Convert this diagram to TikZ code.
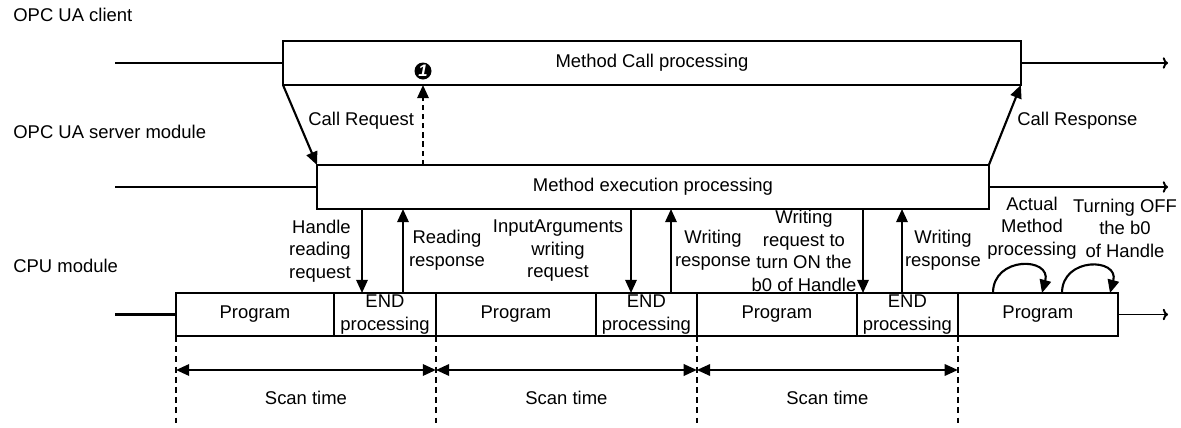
\documentclass[tikz,border=0pt]{standalone}
\usepackage{fontspec}
\setmainfont{Liberation Sans}
\usetikzlibrary{arrows.meta, positioning, calc}

\begin{document}
\begin{tikzpicture}[
    x=0.02cm, y=-0.02cm,
    font=\fontsize{10.5pt}{12.8pt}\selectfont,
    block/.style={draw, line width=1.2pt, inner sep=0pt, outer sep=0pt, align=center, anchor=north west, minimum height=0.88cm},
    cpu/.style={draw, line width=1.2pt, inner sep=0pt, outer sep=0pt, align=center, minimum height=0.86cm},
    line/.style={line width=1.2pt},
    flow/.style={line width=1.1pt, -{To[length=3pt,width=6.5pt]}},
    sig/.style={line width=1.2pt, -{Triangle[length=7.5pt,width=6.5pt]}},
    span/.style={line width=1.2pt, {Triangle[length=7.5pt,width=6.5pt]}-{Triangle[length=7.5pt,width=6.5pt]}},
    vdash/.style={line width=1pt, dash pattern=on 3.4pt off 2.4pt},
    lbl/.style={inner sep=0pt, align=center}
]
\useasboundingbox (0,0) rectangle (1181,427);

% Layer names
\node[lbl, anchor=west] (opc) at (13,15) {OPC UA client};
\node[lbl, anchor=west] (srv) at (13,132) {OPC UA server module};
\node[lbl, anchor=west] (cpum) at (13,266) {CPU module};

% line ends and arrow positions
\coordinate (lft) at (115,0);
\coordinate (rgt) at (1168,0);
\coordinate (a1) at (362,0);
\coordinate (a2) at (403,0);
\coordinate (a3) at (631,0);
\coordinate (a4) at (671,0);
\coordinate (a5) at (863,0);
\coordinate (a6) at (902,0);
\coordinate (c1) at (993,0);
\coordinate (c2) at (1042,0);
\coordinate (c3) at (1062,0);
\coordinate (c4) at (1110,0);

% OPC UA client
\node[block, minimum width=14.76cm] (client) at (283,41) {Method Call processing};
\draw[line] (client.west -| lft) -- (client.west);
\draw[flow] (client.east) -- (client.east -| rgt);

% OPC UA server module
\node[block, minimum width=13.44cm] (server) at (317,165) {Method execution processing};
\draw[line] (server.west -| lft) -- (server.west);
\draw[flow] (server.east) -- (server.east -| rgt);

\draw[sig] (client.south west) -- (server.north west);
\draw[sig] (server.north east) -- (client.south east);
\node[lbl, anchor=west] (lcq) at (308,121) {Call Request};
\node[lbl, anchor=west] (lcs) at (1017,121) {Call Response};

\node[circle, fill=black, inner sep=0pt, minimum size=0.34cm, text=white,
      font=\bfseries\itshape\fontsize{9.5pt}{9.5pt}\selectfont] (m1) at (423,71) {1};
\draw[sig, dash pattern=on 3pt off 2.2pt] (server.north -| m1) -- (client.south -| m1);

% CPU module
\node[cpu, minimum width=3.16cm, anchor=north west] (p1) at (176,293) {Program};
\node[cpu, minimum width=2.04cm, right=0pt of p1] (e1) {END\\processing};
\node[cpu, minimum width=3.2cm, right=0pt of e1] (p2) {Program};
\node[cpu, minimum width=2.02cm, right=0pt of p2] (e2) {END\\processing};
\node[cpu, minimum width=3.2cm, right=0pt of e2] (p3) {Program};
\node[cpu, minimum width=2.02cm, right=0pt of p3] (e3) {END\\processing};
\node[cpu, minimum width=3.2cm, right=0pt of e3] (p4) {Program};
\draw[line] (p1.west -| lft) -- (p1.west);
\draw[flow] (p4.east) -- (p4.east -| rgt);

% requests and responses
\draw[sig] (server.south -| a1) -- (e1.north -| a1);
\draw[sig] (e1.north -| a2) -- (server.south -| a2);
\draw[sig] (server.south -| a3) -- (e2.north -| a3);
\draw[sig] (e2.north -| a4) -- (server.south -| a4);
\draw[sig] (server.south -| a5) -- (e3.north -| a5);
\draw[sig] (e3.north -| a6) -- (server.south -| a6);

\node[lbl, align=right, anchor=east] (lhr) at (351,251) {Handle\\reading\\request};
\node[lbl] (lrr) at (447,250) {Reading\\response};
\node[lbl] (lia) at (558,251) {InputArguments\\writing\\request};
\node[lbl] (lwr) at (713,250) {Writing\\response};
\node[lbl] (lwo) at (804,251) {Writing\\request to\\turn ON the\\b0 of Handle};
\node[lbl] (lws) at (943,250) {Writing\\response};

% method processing
\draw[sig] (p4.north -| c1) to[out=90, in=75, looseness=1.95] (p4.north -| c2);
\draw[sig] (p4.north -| c3) to[out=90, in=75, looseness=1.95] (p4.north -| c4);
\node[lbl] (lam) at (1032,228) {Actual\\Method\\processing};
\node[lbl] (lto) at (1125,228) {Turning OFF\\the b0\\of Handle};

% scan time
\foreach \b in {p1.south west, e1.south east, e2.south east, e3.south east}
    \draw[vdash] (\b) -- ++(0,91);
\foreach \a/\b/\n in {p1/e1/1, p2/e2/2, p3/e3/3}
    \draw[span] ($(\a.south west)+(0,34)$) -- node[lbl, midway, yshift=-0.56cm] (st\n) {Scan time} ($(\b.south east)+(0,34)$);

\end{tikzpicture}
\end{document}
